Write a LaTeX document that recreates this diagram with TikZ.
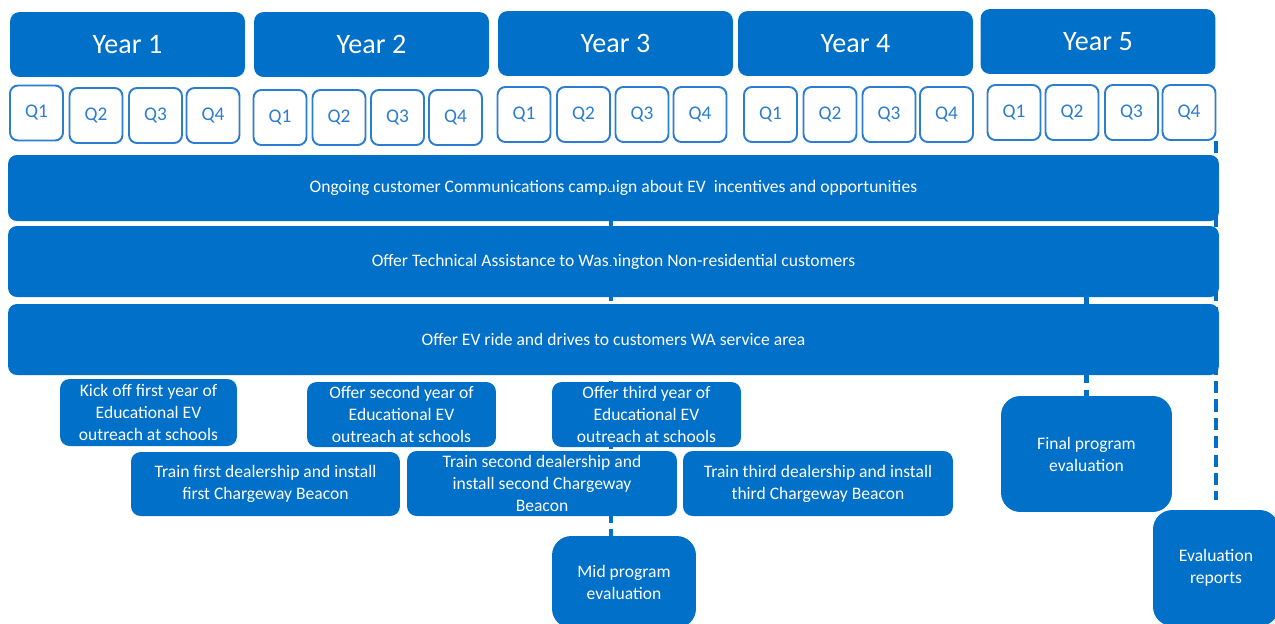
\documentclass[tikz,border=0pt]{standalone}
\usepackage{fontspec}
\setmainfont{Carlito}
\definecolor{planblue}{HTML}{0070C8}
\definecolor{qline}{HTML}{2A7DD1}

\begin{document}
\begin{tikzpicture}[x=0.02cm,y=-0.02cm,
	year/.style={rectangle,rounded corners=5.5pt,fill=planblue,text=white,minimum width=4.7cm,minimum height=1.3cm,font=\fontsize{16}{19}\selectfont},
	qtr/.style={rectangle,rounded corners=4.5pt,draw=qline,line width=1.1pt,fill=white,text=qline,minimum width=1.06cm,minimum height=1.1cm,inner sep=0pt,font=\fontsize{11}{13}\selectfont},
	bar/.style={rectangle,rounded corners=5pt,fill=planblue,text=white,minimum width=24.22cm,font=\fontsize{10}{12}\selectfont},
	task/.style={rectangle,rounded corners=5.5pt,fill=planblue,text=white,align=center,inner sep=0pt,font=\fontsize{10}{12.5}\selectfont},
	review/.style={task,rounded corners=11pt},
	link/.style={planblue,line width=2.3pt,dash pattern=on 7pt off 3.5pt}]
	\useasboundingbox (0,0) rectangle (1275,623);
	% years
	\node[year](y1) at (127.5,44.5){Year 1};
	\node[year](y2) at (371.5,44.5){Year 2};
	\node[year](y3) at (615.5,43.5){Year 3};
	\node[year](y4) at (855.5,43.5){Year 4};
	\node[year](y5) at (1098,41.5){Year 5};
	% quarters
	\node[qtr](y1q1) at (36.5,113){Q1};
	\node[qtr](y1q2) at (96,115.5){Q2};
	\node[qtr](y1q3) at (155.5,115.5){Q3};
	\node[qtr](y1q4) at (213,115.5){Q4};
	\node[qtr](y2q1) at (280,117.5){Q1};
	\node[qtr](y2q2) at (339,117.5){Q2};
	\node[qtr](y2q3) at (397.5,117.5){Q3};
	\node[qtr](y2q4) at (455.5,117.5){Q4};
	\node[qtr](y3q1) at (524,114.5){Q1};
	\node[qtr](y3q2) at (583.5,114.5){Q2};
	\node[qtr](y3q3) at (642,114.5){Q3};
	\node[qtr](y3q4) at (700,114.5){Q4};
	\node[qtr](y4q1) at (770.5,114.5){Q1};
	\node[qtr](y4q2) at (830,114.5){Q2};
	\node[qtr](y4q3) at (889,114.5){Q3};
	\node[qtr](y4q4) at (946.5,114.5){Q4};
	\node[qtr](y5q1) at (1014,112.5){Q1};
	\node[qtr](y5q2) at (1072,112.5){Q2};
	\node[qtr](y5q3) at (1131.5,112.5){Q3};
	\node[qtr](y5q4) at (1189,112.5){Q4};
	% ongoing work
	\node[bar,minimum height=1.32cm](bar1) at (613.5,188){Ongoing customer Communications campaign about EV\ \ incentives and opportunities};
	\node[bar,minimum height=1.42cm](bar2) at (613.5,261.5){Offer Technical Assistance to Washington Non-residential customers};
	\node[bar,minimum height=1.42cm](bar3) at (613.5,339.5){Offer EV ride and drives to customers WA service area};
	% evaluations
	\node[review,minimum width=2.88cm,minimum height=1.84cm](mid) at (624,582){Mid program\\evaluation};
	\node[review,minimum width=3.42cm,minimum height=2.32cm](final) at (1086.5,454){Final program\\evaluation};
	\node[review,minimum width=2.52cm,minimum height=2.32cm](reports) at (1216,568){Evaluation\\reports};
	\coordinate (comms) at (611,160);
	\draw[link](comms)--(comms |- mid.north);
	\draw[link](final.north |- bar2.south)--(final.north);
	\draw[link,shorten >=5.5pt](y5q4.south east)--(y5q4.south east |- reports.north);
	% yearly tasks
	\node[task,minimum width=3.54cm,minimum height=1.34cm](school1) at (148.5,412.5){Kick off first year of\\Educational EV\\outreach at schools};
	\node[task,minimum width=3.78cm,minimum height=1.3cm](school2) at (401.5,414.5){Offer second year of\\Educational EV\\outreach at schools};
	\node[task,minimum width=3.78cm,minimum height=1.3cm](school3) at (646.5,414.5){Offer third year of\\Educational EV\\outreach at schools};
	\node[task,minimum width=5.38cm,minimum height=1.28cm](dealer1) at (265.5,484){Train first dealership and install\\first Chargeway Beacon};
	\node[task,minimum width=5.4cm,minimum height=1.3cm](dealer2) at (542,483.5){Train second dealership and\\install second Chargeway\\Beacon};
	\node[task,minimum width=5.4cm,minimum height=1.3cm](dealer3) at (818,483.5){Train third dealership and install\\third Chargeway Beacon};
	
\end{tikzpicture}
\end{document}
